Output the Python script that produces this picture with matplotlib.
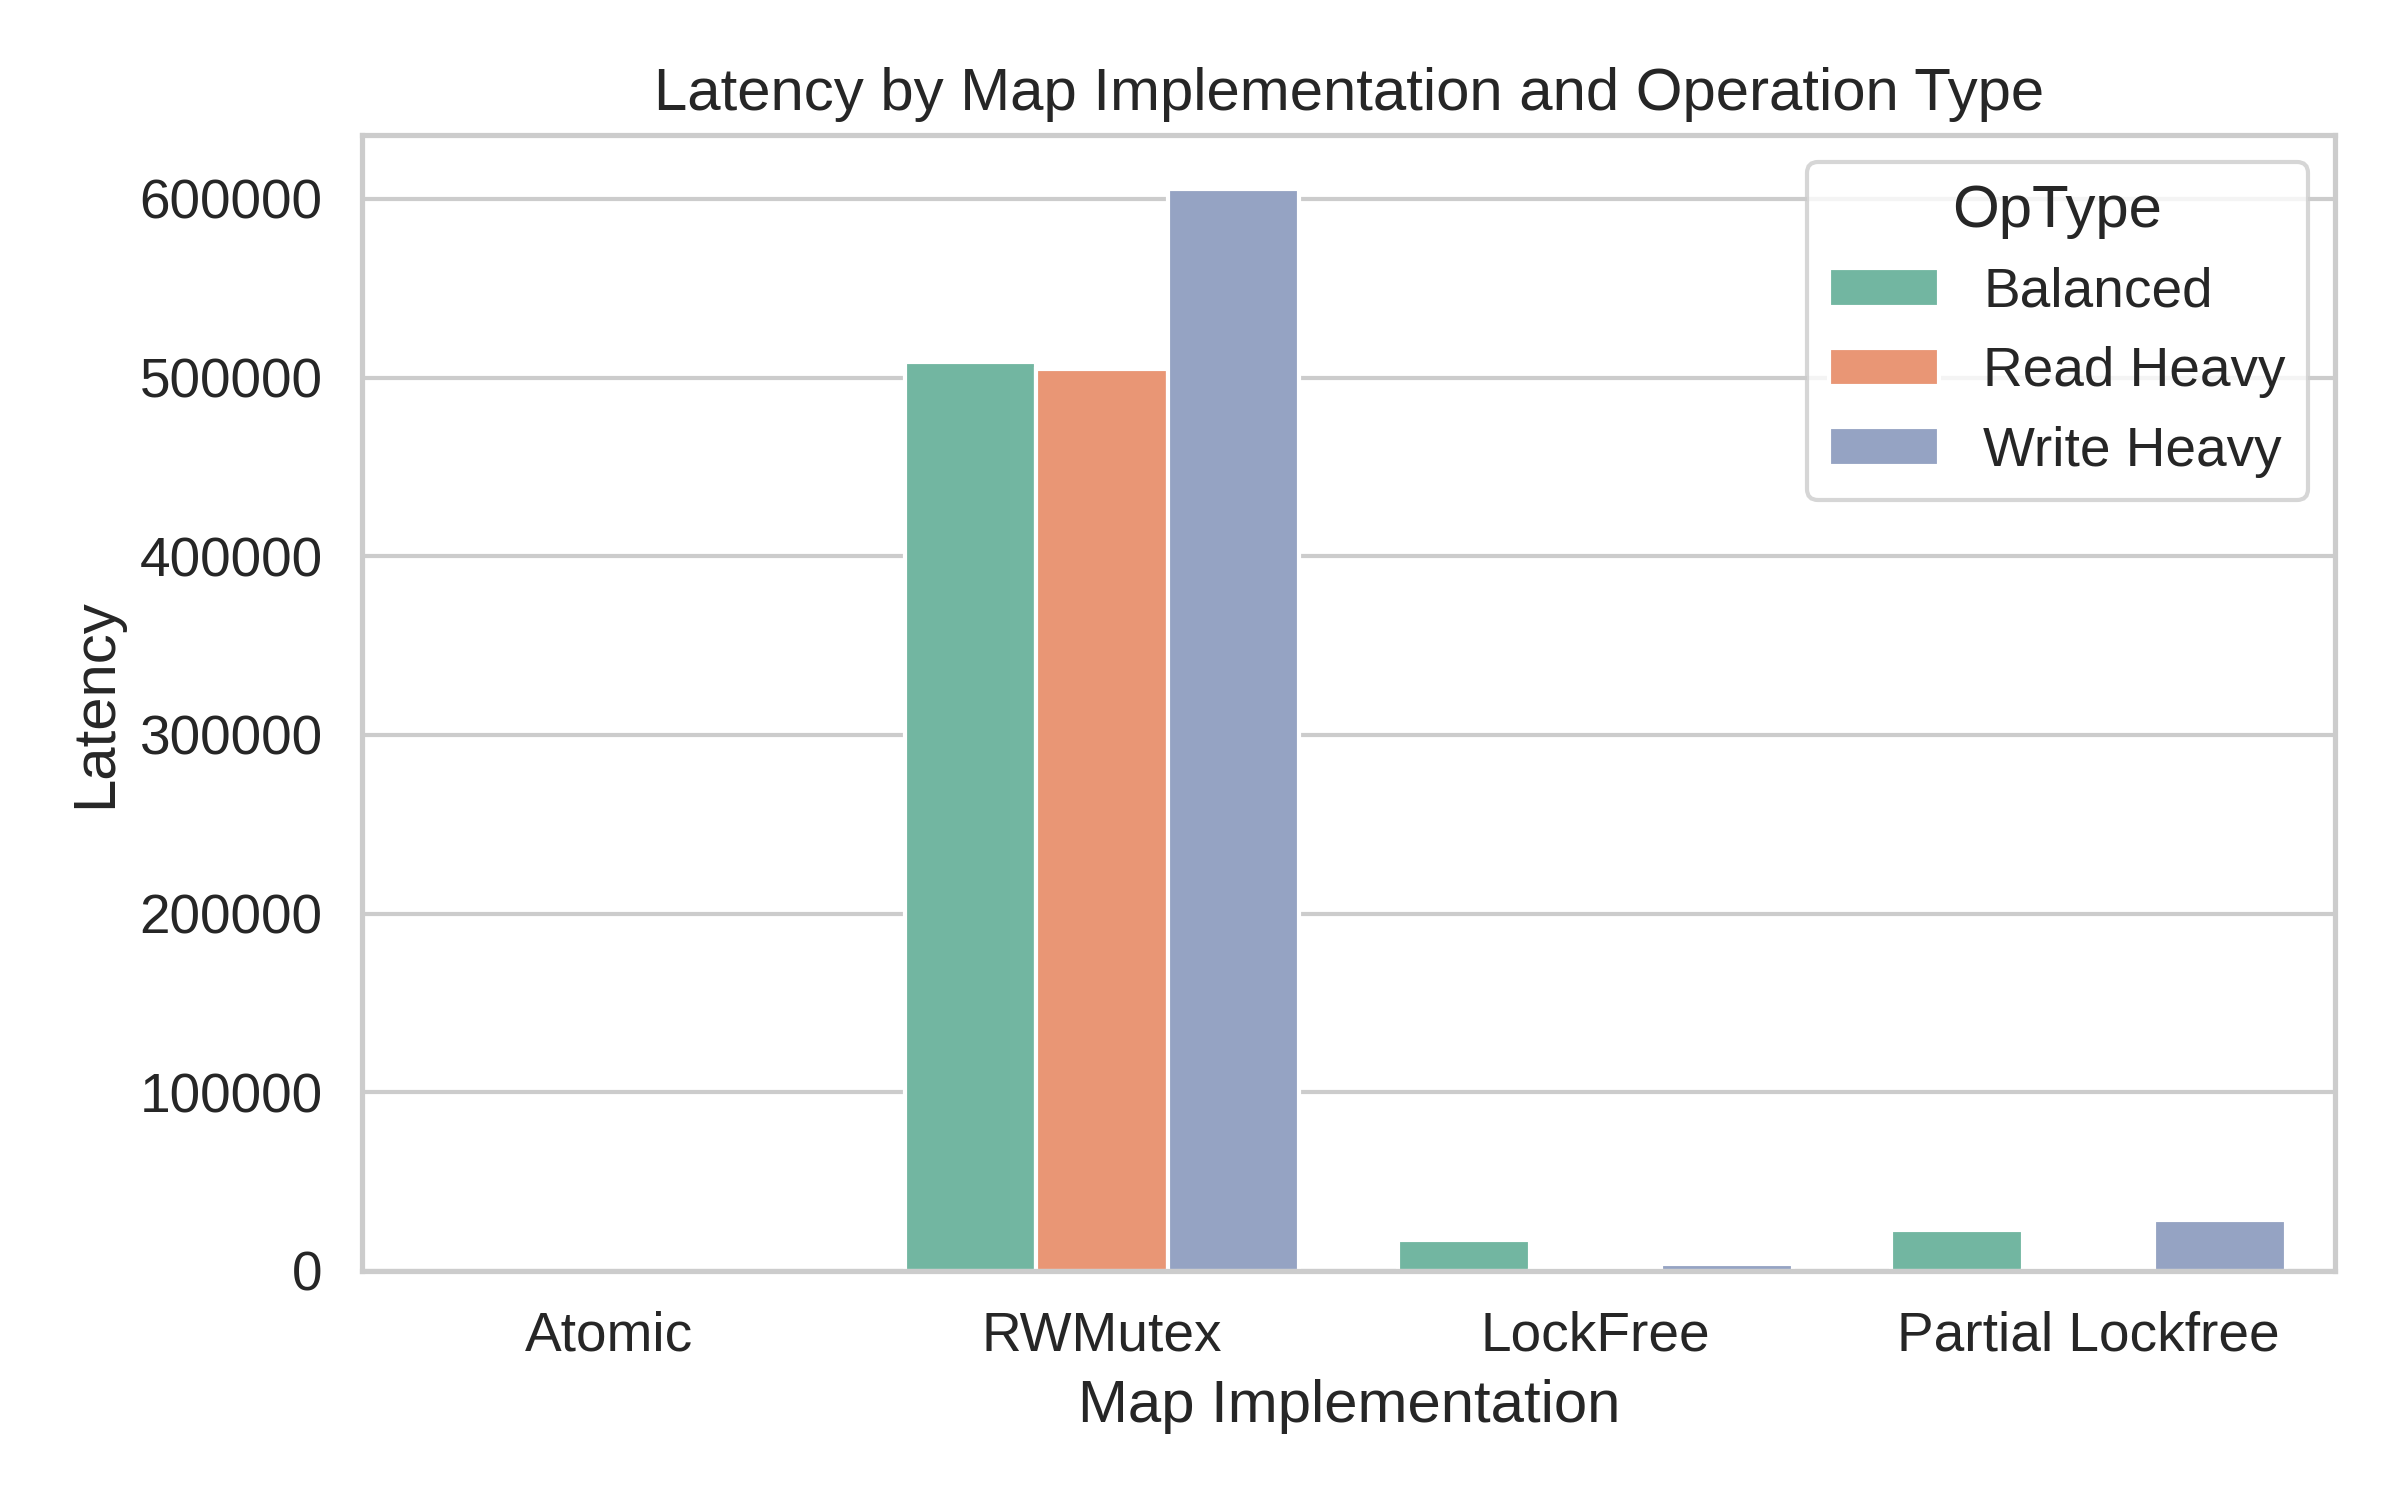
import matplotlib
matplotlib.use("Agg")
import matplotlib.pyplot as plt
import numpy as np
import pandas as pd
import seaborn as sns

# data
impls = ["Atomic", "RWMutex", "LockFree", "Partial Lockfree"]
op_types = ["Balanced", "Read Heavy", "Write Heavy"]
balanced = [60, 508500, 17500, 22800]
read_heavy = [50, 504800, 300, 400]
write_heavy = [60, 605600, 4000, 28300]

rows = []
for i, impl in enumerate(impls):
    for op, vals in zip(op_types, [balanced, read_heavy, write_heavy]):
        rows.append({"Map": impl, "OpType": op, "Latency": vals[i]})
df = pd.DataFrame(rows)

sns.set_theme(style="whitegrid", font_scale=1.2)
plt.rcParams["font.family"] = ["Liberation Sans", "DejaVu Sans"]
fig, ax = plt.subplots(figsize=(8, 5))
sns.barplot(data=df, x="Map", y="Latency", hue="OpType", palette="Set2",
            order=impls, hue_order=op_types, ax=ax, errorbar=None)
ax.set_title("Latency by Map Implementation and Operation Type")
ax.set_xlabel("Map Implementation")
ax.set_ylabel("Latency")
ax.legend(title="OpType", loc="upper right")
fig.tight_layout()
fig.savefig("out.png", dpi=300)
